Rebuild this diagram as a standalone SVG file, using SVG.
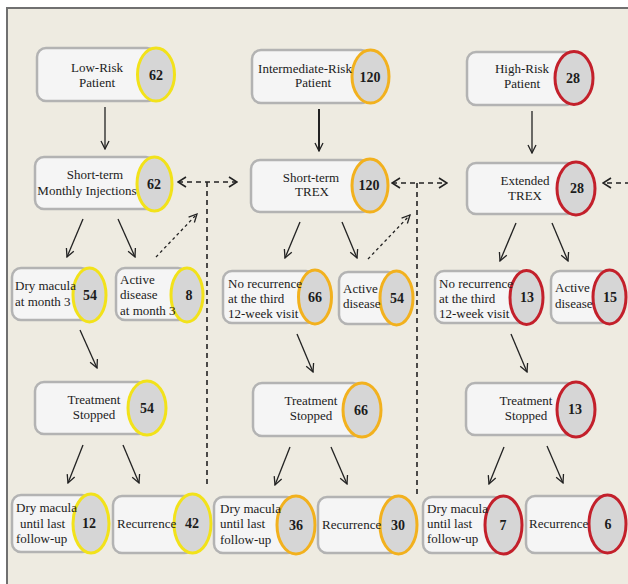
<svg xmlns="http://www.w3.org/2000/svg" width="628" height="584" viewBox="0 0 628 584">
<defs>
<marker id="ah" viewBox="0 0 10 10" refX="9" refY="5" markerWidth="10" markerHeight="10" markerUnits="userSpaceOnUse" orient="auto-start-reverse">
<path d="M1,1 L9,5 L1,9" fill="none" stroke="#222" stroke-width="1.3"/>
</marker>
<marker id="ahd" viewBox="0 0 10 12" refX="9" refY="6" markerWidth="10" markerHeight="12" markerUnits="userSpaceOnUse" orient="auto-start-reverse">
<path d="M1,1 L9,6 L1,11" fill="none" stroke="#222" stroke-width="1.6"/>
</marker>
</defs>
<style>
.box{fill:#f5f5f5;stroke:#b3b3b3;stroke-width:2.5}
.ov{fill:#d6d6d6;stroke-width:3}
.y{stroke:#f2e21a}
.o{stroke:#f2b11e}
.r{stroke:#c3202b}
text{font-family:"Liberation Serif","Times New Roman",serif;font-size:13px;fill:#1c1c1c}
.c{text-anchor:middle}
.n{font-weight:bold;font-size:14px;text-anchor:middle}
.ln{stroke:#222;stroke-width:1.3;fill:none;marker-end:url(#ah)}
.dsh{stroke:#222;stroke-width:1.6;fill:none;stroke-dasharray:5 4}
.dot{stroke:#222;stroke-width:1.3;fill:none;stroke-dasharray:3 3;marker-end:url(#ah)}
</style>
<rect x="0" y="0" width="628" height="584" fill="#ffffff"/>
<rect x="7" y="8" width="640" height="600" fill="#eeebe1" stroke="#707070" stroke-width="2"/>

<g id="connectors">
<line class="ln" x1="105" y1="107" x2="105" y2="149"/>
<line class="ln" x1="83" y1="219" x2="67" y2="257"/>
<line class="ln" x1="118" y1="219" x2="135" y2="257"/>
<line class="ln" x1="80" y1="330" x2="97" y2="368"/>
<line class="ln" x1="83" y1="445" x2="68" y2="483"/>
<line class="ln" x1="123" y1="445" x2="139" y2="483"/>
<line class="ln" x1="319" y1="109" x2="319" y2="151" style="stroke-width:2"/>
<line class="ln" x1="300" y1="222" x2="285" y2="258"/>
<line class="ln" x1="342" y1="222" x2="357" y2="258"/>
<line class="ln" x1="297" y1="334" x2="313" y2="372"/>
<line class="ln" x1="290" y1="447" x2="275" y2="485"/>
<line class="ln" x1="331" y1="447" x2="347" y2="484"/>
<line class="ln" x1="532" y1="111" x2="532" y2="153"/>
<line class="ln" x1="516" y1="223" x2="500" y2="261"/>
<line class="ln" x1="552" y1="223" x2="568" y2="261"/>
<line class="ln" x1="511" y1="334" x2="527" y2="372"/>
<line class="ln" x1="504" y1="447" x2="489" y2="484"/>
<line class="ln" x1="547" y1="446" x2="563" y2="483"/>
<line class="dsh" x1="178" y1="182" x2="237" y2="182" style="marker-start:url(#ahd);marker-end:url(#ahd)"/>
<line class="dsh" x1="207" y1="182" x2="207" y2="488"/>
<line class="dsh" x1="392" y1="183" x2="447" y2="183" style="marker-start:url(#ahd);marker-end:url(#ahd)"/>
<line class="dsh" x1="417" y1="183" x2="417" y2="495"/>
<line class="dsh" x1="630" y1="183" x2="603" y2="183" style="marker-end:url(#ahd)"/>
<line class="dot" x1="156" y1="257" x2="197" y2="214"/>
<line class="dot" x1="368" y1="259" x2="410" y2="215"/>
</g>

<g id="low-risk">
<rect class="box" x="37" y="48" width="119" height="53" rx="9"/>
<ellipse class="ov y" cx="156" cy="74.5" rx="18.5" ry="26.5"/>
<text class="c" x="97" y="72">Low-Risk</text>
<text class="c" x="97" y="87">Patient</text>
<text class="n" x="156" y="80">62</text>
</g>
<g id="intermediate-risk">
<rect class="box" x="252" y="50" width="118" height="53" rx="9"/>
<ellipse class="ov o" cx="370.5" cy="76.5" rx="18.5" ry="26.5"/>
<text class="c" x="305" y="73">Intermediate-Risk</text>
<text class="c" x="313" y="87">Patient</text>
<text class="n" x="370" y="82">120</text>
</g>
<g id="high-risk">
<rect class="box" x="467" y="52" width="107" height="53" rx="9"/>
<ellipse class="ov r" cx="574" cy="78" rx="19" ry="26.5"/>
<text class="c" x="522" y="73">High-Risk</text>
<text class="c" x="522" y="88">Patient</text>
<text class="n" x="573" y="83">28</text>
</g>

<g id="short-term-monthly">
<rect class="box" x="35" y="157" width="120" height="52" rx="9"/>
<ellipse class="ov y" cx="154.5" cy="184" rx="17.5" ry="27"/>
<text class="c" x="95" y="179">Short-term</text>
<text class="c" x="87" y="195">Monthly Injections</text>
<text class="n" x="154" y="189">62</text>
</g>
<g id="short-term-trex">
<rect class="box" x="251" y="160" width="119" height="52" rx="9"/>
<ellipse class="ov o" cx="370" cy="185.5" rx="18" ry="26.5"/>
<text class="c" x="311" y="182">Short-term</text>
<text class="c" x="312" y="196">TREX</text>
<text class="n" x="369" y="190">120</text>
</g>
<g id="extended-trex">
<rect class="box" x="467" y="163" width="109" height="51" rx="9"/>
<ellipse class="ov r" cx="576" cy="188.5" rx="19" ry="26.5"/>
<text class="c" x="525" y="185">Extended</text>
<text class="c" x="525" y="200">TREX</text>
<text class="n" x="577" y="193">28</text>
</g>

<g id="dry-macula-month3">
<rect class="box" x="12" y="268" width="78" height="52" rx="9"/>
<ellipse class="ov y" cx="89.5" cy="295" rx="16.5" ry="27"/>
<text x="15" y="290">Dry macula</text>
<text x="15" y="306">at month 3</text>
<text class="n" x="90" y="300">54</text>
</g>
<g id="active-month3">
<rect class="box" x="116" y="268" width="71" height="52" rx="9"/>
<ellipse class="ov y" cx="187" cy="295" rx="16" ry="27"/>
<text x="120" y="284">Active</text>
<text x="120" y="299">disease</text>
<text x="120" y="315">at month 3</text>
<text class="n" x="189" y="300">8</text>
</g>
<g id="no-recurrence-int">
<rect class="box" x="223" y="271" width="92" height="52" rx="9"/>
<ellipse class="ov o" cx="315" cy="297" rx="16.5" ry="27"/>
<text x="228" y="288">No recurrence</text>
<text x="228" y="303">at the third</text>
<text x="228" y="318">12-week visit</text>
<text class="n" x="315" y="302">66</text>
</g>
<g id="active-int">
<rect class="box" x="339" y="272" width="58" height="52" rx="9"/>
<ellipse class="ov o" cx="396.5" cy="298" rx="16.5" ry="27"/>
<text x="343" y="293">Active</text>
<text x="343" y="308">disease</text>
<text class="n" x="397" y="303">54</text>
</g>
<g id="no-recurrence-high">
<rect class="box" x="435" y="271" width="92" height="52" rx="9"/>
<ellipse class="ov r" cx="526.5" cy="297.5" rx="16.5" ry="27"/>
<text x="439" y="288">No recurrence</text>
<text x="439" y="303">at the third</text>
<text x="439" y="318">12-week visit</text>
<text class="n" x="527" y="302">13</text>
</g>
<g id="active-high">
<rect class="box" x="551" y="271" width="59" height="52" rx="9"/>
<ellipse class="ov r" cx="609.5" cy="297" rx="16.5" ry="27"/>
<text x="555" y="292">Active</text>
<text x="555" y="308">disease</text>
<text class="n" x="610" y="302">15</text>
</g>

<g id="stopped-low">
<rect class="box" x="35" y="382" width="112" height="52" rx="9"/>
<ellipse class="ov y" cx="147" cy="408" rx="19" ry="27"/>
<text class="c" x="94" y="404">Treatment</text>
<text class="c" x="94" y="419">Stopped</text>
<text class="n" x="147" y="413">54</text>
</g>
<g id="stopped-int">
<rect class="box" x="253" y="383" width="109" height="53" rx="9"/>
<ellipse class="ov o" cx="362" cy="410" rx="19" ry="27"/>
<text class="c" x="311" y="405">Treatment</text>
<text class="c" x="311" y="420">Stopped</text>
<text class="n" x="361" y="415">66</text>
</g>
<g id="stopped-high">
<rect class="box" x="466" y="383" width="110" height="52" rx="9"/>
<ellipse class="ov r" cx="576" cy="409.5" rx="19" ry="27.5"/>
<text class="c" x="526" y="405">Treatment</text>
<text class="c" x="526" y="420">Stopped</text>
<text class="n" x="575" y="414">13</text>
</g>

<g id="dry-low">
<rect class="box" x="12" y="495" width="79" height="57" rx="9"/>
<ellipse class="ov y" cx="91" cy="523.5" rx="18" ry="29.5"/>
<text x="16" y="512">Dry macula</text>
<text x="20" y="528">until last</text>
<text x="16" y="543">follow-up</text>
<text class="n" x="89" y="528">12</text>
</g>
<g id="recurrence-low">
<rect class="box" x="113" y="496" width="80" height="57" rx="9"/>
<ellipse class="ov y" cx="192.5" cy="523.5" rx="18.5" ry="29.5"/>
<text x="117" y="528">Recurrence</text>
<text class="n" x="192" y="528">42</text>
</g>
<g id="dry-int">
<rect class="box" x="214" y="497" width="82" height="56" rx="9"/>
<ellipse class="ov o" cx="296" cy="525" rx="19" ry="29"/>
<text x="220" y="513">Dry macula</text>
<text x="220" y="528">until last</text>
<text x="220" y="544">follow-up</text>
<text class="n" x="296" y="530">36</text>
</g>
<g id="recurrence-int">
<rect class="box" x="318" y="497" width="80" height="56" rx="9"/>
<ellipse class="ov o" cx="398.5" cy="525" rx="18.5" ry="29"/>
<text x="322" y="529">Recurrence</text>
<text class="n" x="398" y="530">30</text>
</g>
<g id="dry-high">
<rect class="box" x="423" y="497" width="80" height="56" rx="9"/>
<ellipse class="ov r" cx="503.5" cy="525" rx="18.5" ry="29"/>
<text x="427" y="513">Dry macula</text>
<text x="427" y="528">until last</text>
<text x="427" y="543">follow-up</text>
<text class="n" x="503" y="530">7</text>
</g>
<g id="recurrence-high">
<rect class="box" x="526" y="496" width="82" height="57" rx="9"/>
<ellipse class="ov r" cx="607.5" cy="524" rx="18.5" ry="29"/>
<text x="529" y="528">Recurrence</text>
<text class="n" x="608" y="529">6</text>
</g>
</svg>
